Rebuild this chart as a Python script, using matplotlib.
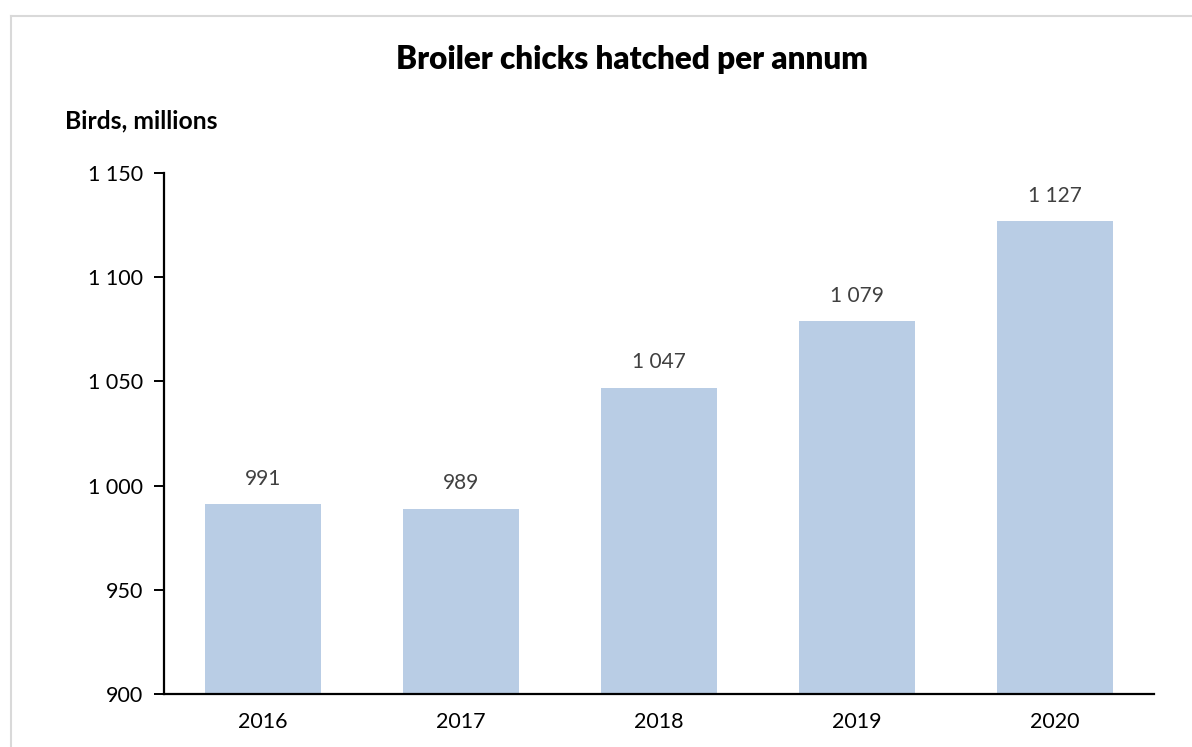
import matplotlib
matplotlib.use("Agg")
import matplotlib.pyplot as plt
from matplotlib.lines import Line2D
from matplotlib.ticker import FixedLocator, FuncFormatter

years = ["2016", "2017", "2018", "2019", "2020"]
birds_millions = [991, 989, 1047, 1079, 1127]
y_ticks = [900, 950, 1000, 1050, 1100, 1150]

plt.rcParams["font.family"] = ["Lato", "DejaVu Sans"]

W, H = 1192, 747
fig = plt.figure(figsize=(W / 100, H / 100), dpi=100)
fig.patch.set_facecolor("white")

# Axes placed in pixel terms: left 164, right 1154, top 173, bottom 694
left, right, top, bottom = 164, 1154, 173, 694
ax = fig.add_axes([left / W, 1 - bottom / H, (right - left) / W, (bottom - top) / H])

x = range(len(years))
ax.bar(x, [v - 900 for v in birds_millions], bottom=900, width=0.59,
       color="#B9CDE5", zorder=2)

ax.set_xlim(-0.5, len(years) - 0.5)
ax.set_ylim(900, 1150)


def spaced(v, _pos=None):
    return f"{int(v):,}".replace(",", " ")


ax.yaxis.set_major_locator(FixedLocator(y_ticks))
ax.yaxis.set_major_formatter(FuncFormatter(spaced))
ax.set_xticks(list(x))
ax.set_xticklabels(years)

for s in ["top", "right"]:
    ax.spines[s].set_visible(False)
for s in ["left", "bottom"]:
    ax.spines[s].set_linewidth(1.6)
    ax.spines[s].set_color("black")

ax.tick_params(axis="y", length=7, width=1.4, labelsize=15.5, pad=8, colors="black")
ax.tick_params(axis="x", length=0, labelsize=15.5, pad=13, colors="black")

for xi, v in zip(x, birds_millions):
    ax.annotate(spaced(v), (xi, v), xytext=(0, 11), textcoords="offset points",
                ha="center", va="bottom", fontsize=15, color="#404040")

fig.text(632 / W, 1 - 59 / H, "Broiler chicks hatched per annum",
         ha="center", va="center", fontsize=22.7, fontweight="heavy")
fig.text(65 / W, 1 - 121 / H, "Birds, millions",
         ha="left", va="center", fontsize=17.8, fontweight="bold")

# Light frame around the chart area
fig.add_artist(Line2D([10.5 / W, 1.0], [1 - 15.5 / H, 1 - 15.5 / H],
                      transform=fig.transFigure, color="#D9D9D9", lw=1.5))
fig.add_artist(Line2D([10.5 / W, 10.5 / W], [0.0, 1 - 15.5 / H],
                      transform=fig.transFigure, color="#D9D9D9", lw=1.5))

fig.savefig("out.png", dpi=100, facecolor="white")
